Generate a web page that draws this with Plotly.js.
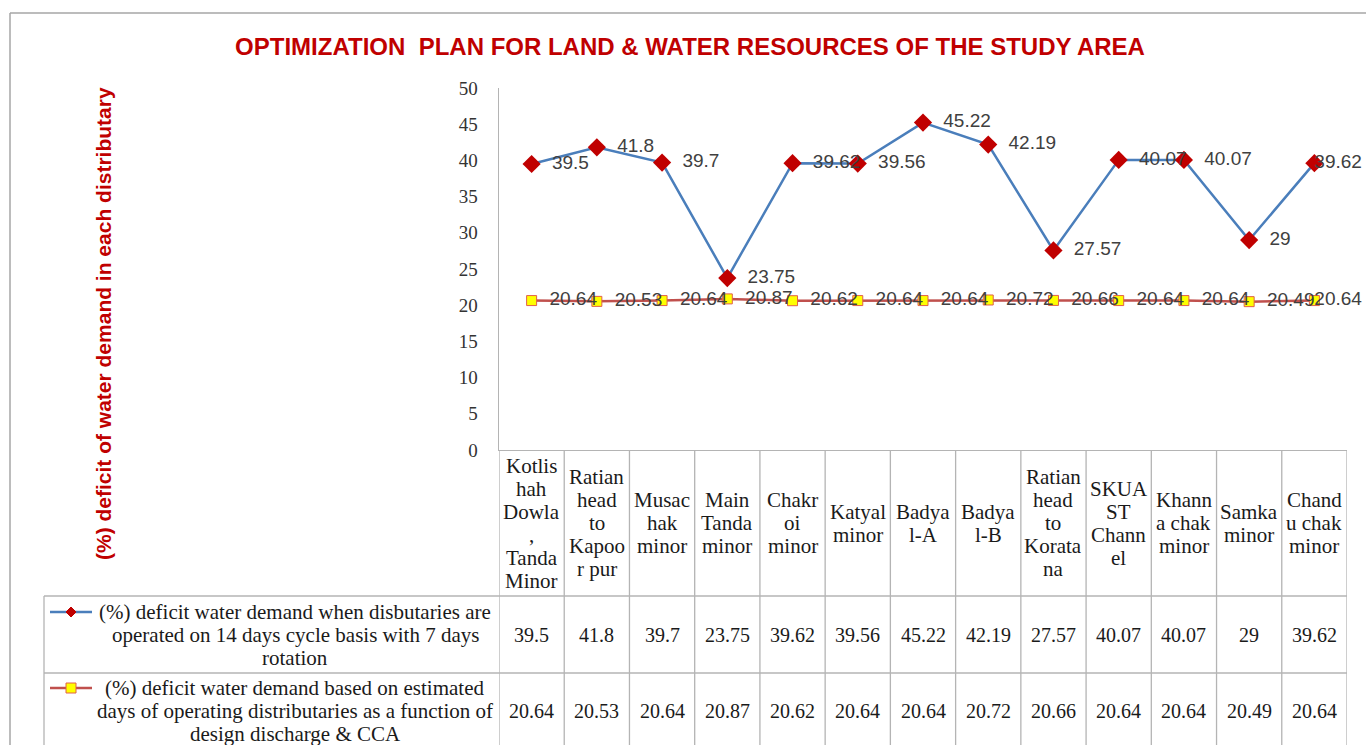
<!DOCTYPE html>
<html><head><meta charset="utf-8">
<script src="https://cdn.plot.ly/plotly-3.0.1.min.js"></script>
<style>html,body{margin:0;padding:0;background:#fff}#chart{width:1366px;height:745px}</style>
</head><body><div id="chart"></div>
<script>
// ---------- data ----------
const categories = [
  "Kotlis\nhah\nDowla\n,\nTanda\nMinor",
  "Ratian\nhead\nto\nKapoo\nr pur",
  "Musac\nhak\nminor",
  "Main\nTanda\nminor",
  "Chakr\noi\nminor",
  "Katyal\nminor",
  "Badya\nl-A",
  "Badya\nl-B",
  "Ratian\nhead\nto\nKorata\nna",
  "SKUA\nST\nChann\nel",
  "Khann\na chak\nminor",
  "Samka\nminor",
  "Chand\nu chak\nminor"
];
const series1Name = "(%) deficit water demand when disbutaries are\noperated on 14 days cycle basis with 7 days\nrotation";
const series2Name = "(%) deficit water demand based on estimated\ndays of operating distributaries as a function of\ndesign discharge & CCA";
const series1 = [39.5, 41.8, 39.7, 23.75, 39.62, 39.56, 45.22, 42.19, 27.57, 40.07, 40.07, 29, 39.62];
const series2 = [20.64, 20.53, 20.64, 20.87, 20.62, 20.64, 20.64, 20.72, 20.66, 20.64, 20.64, 20.49, 20.64];
const yTicks = [0, 5, 10, 15, 20, 25, 30, 35, 40, 45, 50];
const chartTitle = "OPTIMIZATION\u00a0\u00a0PLAN FOR LAND & WATER RESOURCES OF THE STUDY AREA";
const yTitle = "(%) deficit of water demand in each distributary";

// ---------- geometry ----------
const W = 1366, H = 745, L = 499, R = 19, T = 88, B = 295;
const plotW = W - L - R, plotH = H - T - B;
const px = p => (p - L) / plotW;
const py = p => (H - B - p) / plotH;
const idx = categories.map((_, i) => i);
const last = categories.length - 1;

const serif = "Liberation Serif, Times New Roman, serif";
const sans = "Liberation Sans, Arial, sans-serif";
const gridCol = "#B4B4B4";
const txtCol = "#1a1a1a";

// data labels: right of the point; the last one is pulled back over its marker (as Excel does at the edge)
const labelText = arr => arr.map((v, i) => i === last ? "\u00a0".repeat(9) + v : "\u00a0\u00a0" + v);
const labelPos = arr => arr.map((v, i) => i === last ? "middle center" : "middle right");

const traces = [
  {
    x: idx, y: series1, type: "scatter", mode: "lines+markers+text",
    text: labelText(series1), textposition: labelPos(series1),
    textfont: {family: sans, size: 19, color: "#404040"},
    line: {color: "#4A7EBB", width: 2.5},
    marker: {symbol: "diamond", size: 14, color: "#C00000"},
    cliponaxis: false, hoverinfo: "y", showlegend: false
  },
  {
    x: idx, y: series2, type: "scatter", mode: "lines+markers+text",
    text: labelText(series2), textposition: labelPos(series2),
    textfont: {family: sans, size: 19, color: "#404040"},
    line: {color: "#C0504D", width: 2.5},
    marker: {symbol: "square", size: 10, color: "#FFFF00", line: {color: "#E0604A", width: 1}},
    cliponaxis: false, hoverinfo: "y", showlegend: false
  }
];

const shapes = [];
const annotations = [];

// outer chart border
shapes.push({type: "line", xref: "paper", yref: "paper", x0: px(10), x1: px(1370), y0: py(13), y1: py(13), line: {color: "#A6A6A6", width: 1.5}});
shapes.push({type: "line", xref: "paper", yref: "paper", x0: px(10), x1: px(10), y0: py(13), y1: py(760), line: {color: "#A6A6A6", width: 1.5}});

// table column boundaries
for (let i = 0; i <= categories.length; i++) {
  shapes.push({type: "line", xref: "x", yref: "paper", x0: i - 0.5, x1: i - 0.5, y0: 0, y1: py(760), line: {color: gridCol, width: 1.3}});
}
// table row lines
[596, 673].forEach(r => shapes.push({type: "line", xref: "paper", yref: "paper", x0: px(44), x1: 1, y0: py(r), y1: py(r), line: {color: gridCol, width: 1.3}}));
shapes.push({type: "line", xref: "paper", yref: "paper", x0: px(44), x1: px(44), y0: py(596), y1: py(760), line: {color: gridCol, width: 1.3}});

// legend keys in table
function key(yc, lineCol, kind) {
  shapes.push({type: "line", xref: "paper", yref: "paper", x0: px(50), x1: px(92), y0: py(yc), y1: py(yc), line: {color: lineCol, width: 2.5}});
  if (kind === "diamond") {
    const c = 71, s = 5;
    shapes.push({type: "path", xref: "paper", yref: "paper",
      path: `M ${px(c - s)},${py(yc)} L ${px(c)},${py(yc - s)} L ${px(c + s)},${py(yc)} L ${px(c)},${py(yc + s)} Z`,
      fillcolor: "#C00000", line: {color: "#C00000", width: 1}});
  } else {
    shapes.push({type: "rect", xref: "paper", yref: "paper", x0: px(66), x1: px(76), y0: py(yc + 5), y1: py(yc - 5),
      fillcolor: "#FFFF00", line: {color: "#E0604A", width: 1}});
  }
}
key(612, "#4A7EBB", "diamond");
key(688, "#C0504D", "square");

// header text (category names)
const lineH = 23;
categories.forEach((c, i) => {
  const lines = c.split("\n");
  lines.forEach((t, k) => {
    const yc = 523 + (k - (lines.length - 1) / 2) * lineH;
    annotations.push({xref: "x", yref: "paper", x: i, y: py(yc), text: t, showarrow: false,
      xanchor: "center", yanchor: "middle", font: {family: serif, size: 21, color: txtCol}});
  });
});

// row labels
function rowLabel(name, yc) {
  const lines = name.split("\n");
  lines.forEach((t, k) => {
    const y = yc + (k - (lines.length - 1) / 2) * lineH;
    annotations.push({xref: "paper", yref: "paper", x: px(295), y: py(y), text: t, showarrow: false,
      xanchor: "center", yanchor: "middle", font: {family: serif, size: 21, color: txtCol}});
  });
}
rowLabel(series1Name, 635);
rowLabel(series2Name, 711);

// row values
series1.forEach((v, i) => annotations.push({xref: "x", yref: "paper", x: i, y: py(635), text: String(v), showarrow: false,
  xanchor: "center", yanchor: "middle", font: {family: serif, size: 20, color: txtCol}}));
series2.forEach((v, i) => annotations.push({xref: "x", yref: "paper", x: i, y: py(711), text: String(v), showarrow: false,
  xanchor: "center", yanchor: "middle", font: {family: serif, size: 20, color: txtCol}}));

// y-axis title
annotations.push({xref: "paper", yref: "paper", x: px(103), y: py(324), text: yTitle, textangle: -90, showarrow: false,
  xanchor: "center", yanchor: "middle", font: {family: sans, size: 21, color: "#C00000", weight: "bold"}});

const layout = {
  width: W, height: H,
  margin: {l: L, r: R, t: T, b: B, autoexpand: false},
  paper_bgcolor: "#fff", plot_bgcolor: "#fff",
  title: {text: "<b>" + chartTitle + "</b>", x: 690 / W, xanchor: "center", y: 1 - 47 / H, yanchor: "middle", yref: "container",
    font: {family: sans, size: 24, color: "#C00000"}},
  xaxis: {range: [-0.5, categories.length - 0.5], showticklabels: false, showgrid: false, zeroline: false,
    showline: true, linecolor: gridCol, linewidth: 1.3, ticks: "", fixedrange: true},
  yaxis: {range: [0, 50], tickvals: yTicks, ticktext: yTicks.map(String), showgrid: false, zeroline: false,
    showline: true, linecolor: gridCol, linewidth: 1.5, ticks: "", ticklabelstandoff: 16,
    tickfont: {family: serif, size: 19, color: "#333"}, fixedrange: true},
  shapes: shapes,
  annotations: annotations,
  showlegend: false
};

Plotly.newPlot("chart", traces, layout, {displayModeBar: false, staticPlot: true});
</script>
</body></html>
